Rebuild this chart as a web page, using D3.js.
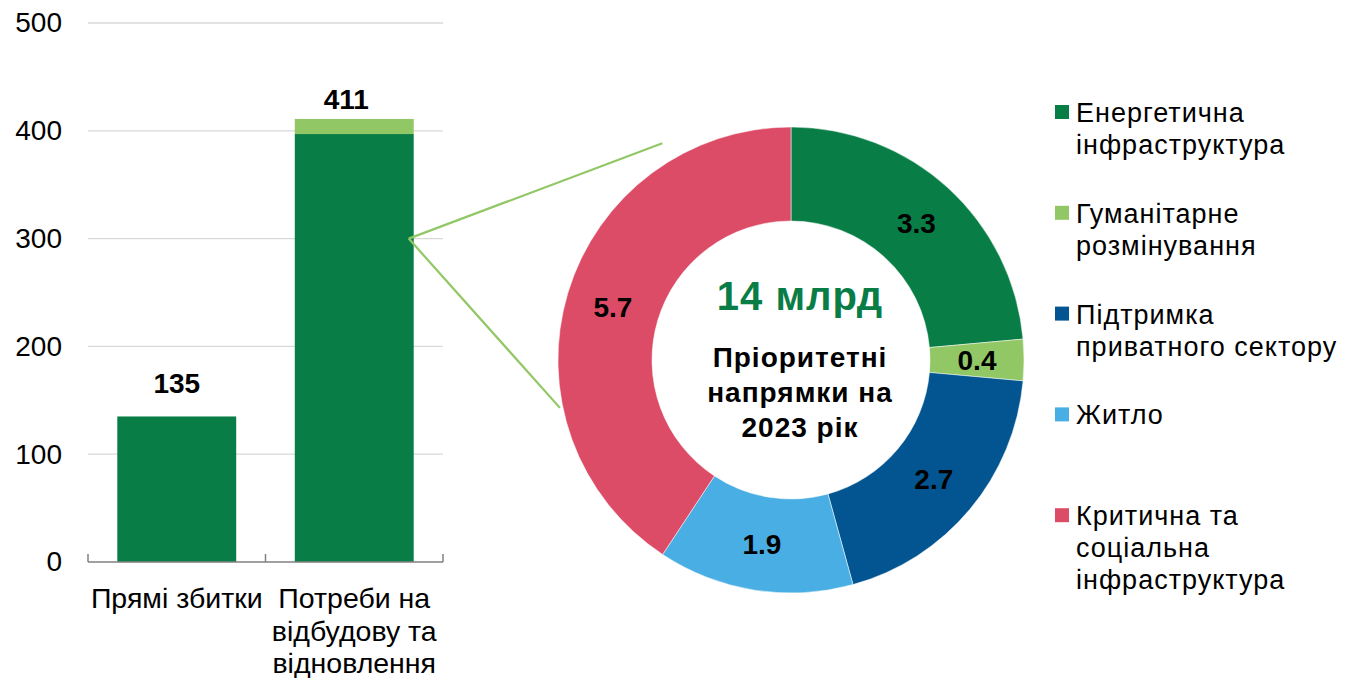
<!DOCTYPE html>
<html>
<head>
<meta charset="utf-8">
<script src="https://cdn.jsdelivr.net/npm/d3@7"></script>
<style>
body { margin: 0; background: #fff; }
text { font-family: "Liberation Sans", Arial, sans-serif; }
</style>
</head>
<body>
<svg width="1349" height="678"></svg>
<script>
// bar chart data
var barKeys = ["Прямі збитки", "Потреби на відбудову та відновлення"];
var barLabelLines = [["Прямі збитки"], ["Потреби на", "відбудову та", "відновлення"]];
var barBase = [135, 397];
var barTop = [0, 14];
var barTotals = [135, 411];
var yTicks = [0, 100, 200, 300, 400, 500];

// donut data
var sliceNames = [["Енергетична", "інфраструктура"], ["Гуманітарне", "розмінування"],
  ["Підтримка", "приватного сектору"], ["Житло"], ["Критична та", "соціальна", "інфраструктура"]];
var sliceValues = [3.3, 0.4, 2.7, 1.9, 5.7];
var sliceColors = ["#087e46", "#92c766", "#025591", "#49aee3", "#dc4c66"];
var centerTitle = "14 млрд";
var centerLines = ["Пріоритетні", "напрямки на", "2023 рік"];

var svg = d3.select("svg");
var dark = "#087e46", light = "#92c766";

var y = d3.scaleLinear().domain([0, 500]).range([562, 23]);
var x = d3.scaleBand().domain(barKeys).range([88, 443]).paddingInner(0.33).paddingOuter(0.165);

// gridlines
svg.append("g").selectAll("line")
  .data(yTicks.filter(function(d) { return d > 0; }))
  .enter().append("line")
  .attr("x1", 88).attr("x2", 443)
  .attr("y1", function(d) { return y(d); }).attr("y2", function(d) { return y(d); })
  .attr("stroke", "#d9d9d9").attr("stroke-width", 1.3);

// y axis labels
var yAxis = svg.append("g").attr("transform", "translate(88,0)")
  .call(d3.axisLeft(y).tickValues(yTicks).tickSize(0).tickPadding(26));
yAxis.select(".domain").remove();
yAxis.selectAll("text").attr("font-size", 28).attr("fill", "#000")
  .style("font-family", "'Liberation Sans', Arial, sans-serif");

// bars
svg.append("g").selectAll("rect.base")
  .data(barKeys).enter().append("rect")
  .attr("x", function(d) { return x(d); })
  .attr("width", x.bandwidth())
  .attr("y", function(d, i) { return y(barBase[i]); })
  .attr("height", function(d, i) { return y(0) - y(barBase[i]); })
  .attr("fill", dark);

svg.append("g").selectAll("rect.top")
  .data(barKeys).enter().append("rect")
  .attr("x", function(d) { return x(d); })
  .attr("width", x.bandwidth())
  .attr("y", function(d, i) { return y(barBase[i] + barTop[i]); })
  .attr("height", function(d, i) { return y(barBase[i]) - y(barBase[i] + barTop[i]); })
  .attr("fill", light);

// totals
var labelGap = [23, 10];
svg.append("g").selectAll("text")
  .data(barKeys).enter().append("text")
  .attr("x", function(d, i) { return x(d) + x.bandwidth() / 2 - (i ? 8 : 0); })
  .attr("y", function(d, i) { return y(barTotals[i]) - labelGap[i]; })
  .attr("text-anchor", "middle")
  .attr("font-size", 28).attr("font-weight", "bold")
  .text(function(d, i) { return barTotals[i]; });

// bottom axis
var axisY = y(0);
svg.append("line").attr("x1", 88).attr("x2", 443).attr("y1", axisY).attr("y2", axisY)
  .attr("stroke", "#808080").attr("stroke-width", 1.5);
var bounds = [x.range()[0]].concat(barKeys.map(function(d) { return x(d) + x.bandwidth() + x.step() * x.paddingInner() / 2; }));
bounds[bounds.length - 1] = x.range()[1];
svg.append("g").selectAll("line").data(bounds).enter().append("line")
  .attr("x1", function(d) { return d; }).attr("x2", function(d) { return d; })
  .attr("y1", axisY - 8).attr("y2", axisY)
  .attr("stroke", "#808080").attr("stroke-width", 1.5);

// category labels
var cat = svg.append("g").selectAll("text").data(barKeys).enter().append("text")
  .attr("text-anchor", "middle").attr("font-size", 28.5);
cat.each(function(d, i) {
  var t = d3.select(this);
  barLabelLines[i].forEach(function(line, j) {
    t.append("tspan").attr("x", x(d) + x.bandwidth() / 2).attr("y", 608 + j * 32.5).text(line);
  });
});

// donut
var cx = 791, cy = 360, rIn = 139, rOut = 233;
var pie = d3.pie().sort(null).value(function(d) { return d; });
var arc = d3.arc().innerRadius(rIn).outerRadius(rOut);
var g = svg.append("g").attr("transform", "translate(" + cx + "," + cy + ")");
var arcs = pie(sliceValues);

// connector lines from the stacked bar
var fromX = x(barKeys[1]) + x.bandwidth() - 5, fromY = y(300);
var conn = [{ a: -30.7, r: 252 }, { a: -101.7, r: 236 }];
svg.append("g").selectAll("line").data(conn).enter().append("line")
  .attr("x1", fromX).attr("y1", fromY)
  .attr("x2", function(d) { return cx + d.r * Math.sin(d.a * Math.PI / 180); })
  .attr("y2", function(d) { return cy - d.r * Math.cos(d.a * Math.PI / 180); })
  .attr("stroke", light).attr("stroke-width", 2.2);

g.selectAll("path").data(arcs).enter().append("path")
  .attr("d", arc)
  .attr("fill", function(d, i) { return sliceColors[i]; })
  .attr("stroke", "#fff").attr("stroke-width", 0.5);

g.selectAll("text.val").data(arcs).enter().append("text")
  .attr("class", "val")
  .attr("transform", function(d) { return "translate(" + arc.centroid(d) + ")"; })
  .attr("text-anchor", "middle").attr("dy", "0.36em")
  .attr("font-size", 28).attr("font-weight", "bold")
  .text(function(d) { return d.data; });

// center text
svg.append("text").attr("x", 800).attr("y", 310).attr("text-anchor", "middle")
  .attr("font-size", 40).attr("font-weight", "bold").attr("fill", dark)
  .attr("letter-spacing", 1)
  .text(centerTitle);
svg.append("g").selectAll("text").data(centerLines).enter().append("text")
  .attr("x", 800).attr("y", function(d, i) { return 367 + i * 35; })
  .attr("text-anchor", "middle").attr("font-size", 28).attr("font-weight", "bold")
  .attr("letter-spacing", 1)
  .text(function(d) { return d; });

// legend
var leg = svg.append("g").selectAll("g").data(sliceNames).enter().append("g")
  .attr("transform", function(d, i) { return "translate(1055," + (122 + i * 100.8) + ")"; });
leg.append("rect").attr("x", 0).attr("y", -17).attr("width", 14).attr("height", 14)
  .attr("fill", function(d, i) { return sliceColors[i]; });
leg.append("text").attr("font-size", 27).attr("letter-spacing", 1).each(function(d) {
  var t = d3.select(this);
  d.forEach(function(line, j) {
    t.append("tspan").attr("x", 21).attr("y", j * 32).text(line);
  });
});
</script>
</body>
</html>
